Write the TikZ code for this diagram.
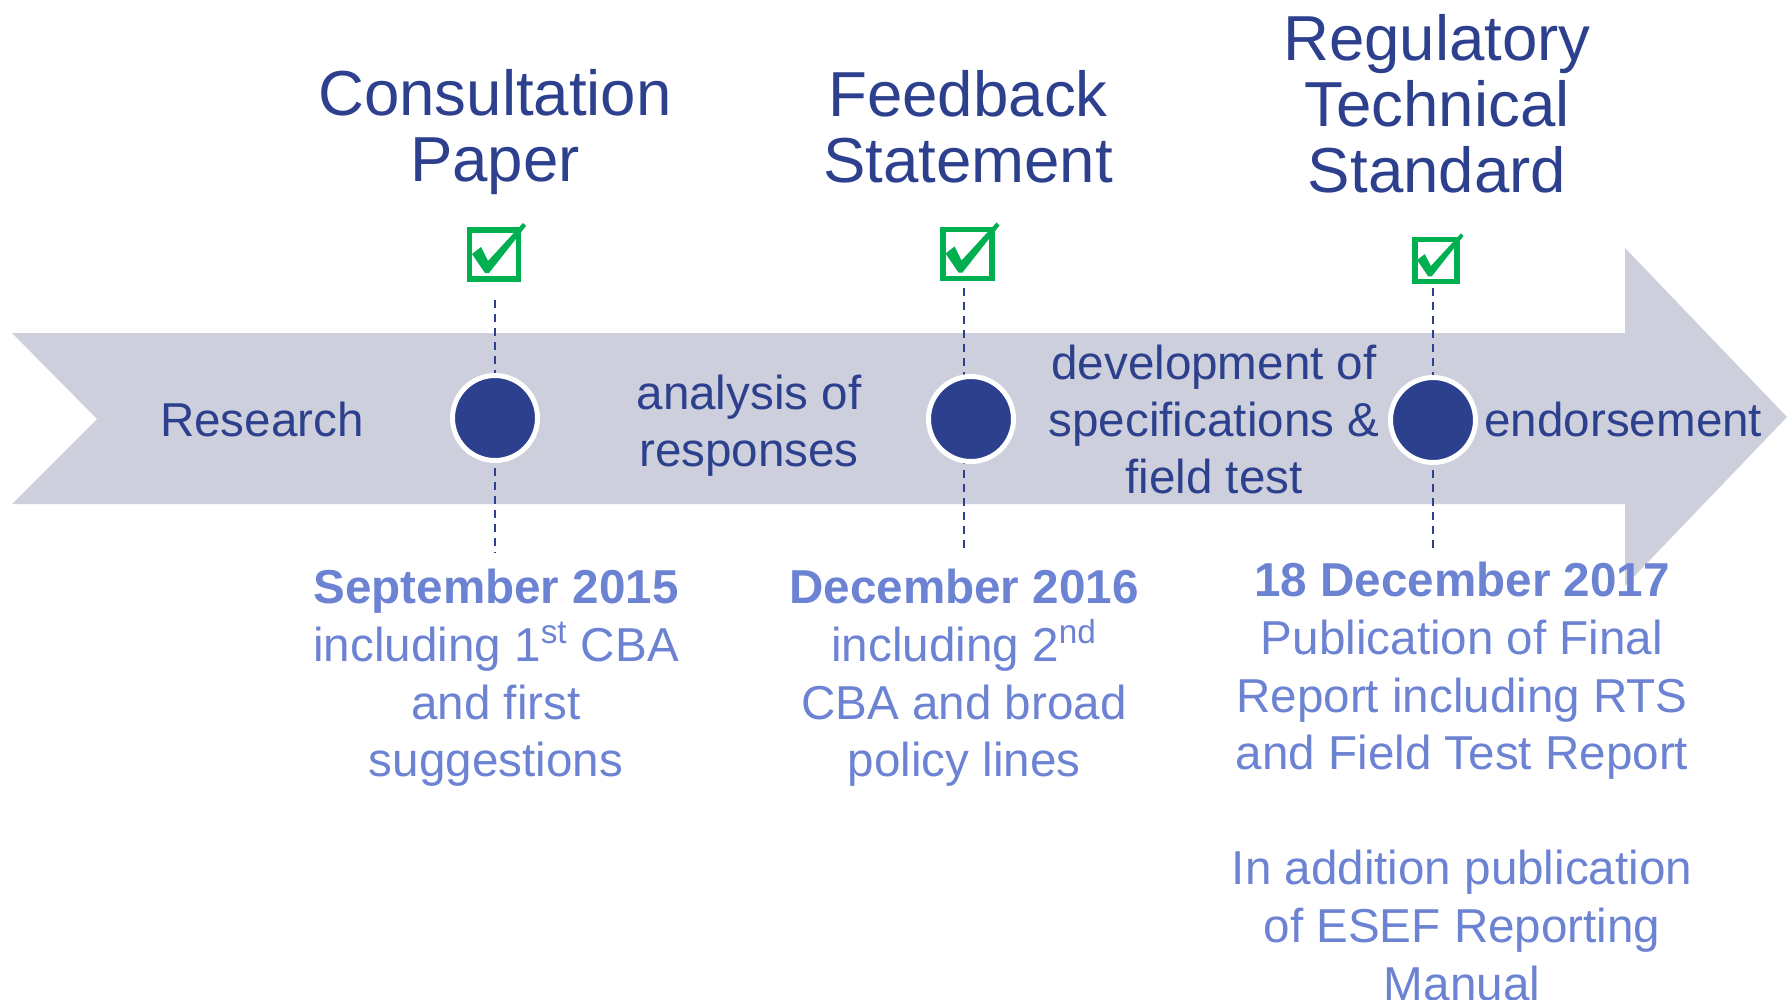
\documentclass[tikz,border=0pt]{standalone}
\usepackage{fontspec}
\setmainfont{Liberation Sans}
\definecolor{navy}{RGB}{45,64,142}
\definecolor{soft}{RGB}{108,130,210}
\definecolor{band}{RGB}{205,208,220}
\definecolor{tick}{RGB}{0,176,80}
\begin{document}
\begin{tikzpicture}[x=0.5pt,y=-0.5pt,
  title/.style={text=navy, align=center, inner sep=0pt,
    font=\fontsize{31.8}{33}\selectfont},
  phase/.style={text=navy, align=center, inner sep=0pt,
    font=\fontsize{23.8}{28.5}\selectfont},
  note/.style={text=soft, align=center, inner sep=0pt,
    font=\fontsize{23.8}{28.8}\selectfont},
  milestone/.style={circle, fill=navy, draw=white, line width=2.5pt,
    minimum size=42.5pt, inner sep=0pt},
  guide/.style={draw=navy, line width=1pt, dash pattern=on 4pt off 3pt},
  checkbox/.pic={
    \draw[tick, line width=2.6pt] (-24.5,-24.5) rectangle (24.5,24.5);
    \fill[tick] (-22,-0.5) -- (-13,-7.5) -- (-6,6.5) -- (29,-31.5)
      -- (32,-28.5) -- (-5,18.5) -- (-9,18.5) -- cycle;
  }]
\useasboundingbox (0,0) rectangle (1787,1000);

% timeline band with notched tail and arrow head
\fill[band] (12,333) -- (1625,333) -- (1625,248) -- (1787,417)
  -- (1625,586) -- (1625,504) -- (12,504) -- (97,419) -- cycle;

% check boxes
\pic[scale=1] at (494,254.5) {checkbox};
\pic[scale=1] at (967.5,254) {checkbox};
\pic[scale=0.86] at (1436,260.5) {checkbox};

% guide line end points
\coordinate (t1) at (495,300);
\coordinate (b1) at (495,553);
\coordinate (t2) at (964,288);
\coordinate (b2) at (964,553);
\coordinate (t3) at (1433,288);
\coordinate (b3) at (1433,553);

\draw[guide] (t1) -- (b1);
\draw[guide] (t2) -- (b2);
\draw[guide] (t3) -- (b3);

% milestones
\node[milestone] (m1) at (495,418) {};
\node[milestone] (m2) at (971,419) {};
\node[milestone] (m3) at (1433,420) {};

% phases along the band
\node[phase] (research) at (262,419) {Research};
\node[phase] (analysis) at (749,426) {analysis of\\responses};
\node[phase] (devel) at (1214,419) {development of\\specifications \&\\field test};
\node[phase, anchor=west] (endorse) at (1484,419) {endorsement};

% document titles
\node[title] (cp) at (495,132) {Consultation\\Paper};
\node[title] (fs) at (968,127) {Feedback\\Statement};
\node[title] (rts) at (1437,104) {Regulatory\\Technical\\Standard};

% publication notes
\node[note, anchor=north] (n1) at (496,569)
  {\textbf{September 2015}\\including 1\textsuperscript{st} CBA\\and first\\suggestions};
\node[note, anchor=north] (n2) at (964,569)
  {\textbf{December 2016}\\including 2\textsuperscript{nd}\\CBA and broad\\policy lines};
\node[note, anchor=north] (n3) at (1462,562)
  {\textbf{18 December 2017}\\Publication of Final\\Report including RTS\\and Field Test Report\\[28.8pt]In addition publication\\of ESEF Reporting\\Manual};
\end{tikzpicture}
\end{document}
